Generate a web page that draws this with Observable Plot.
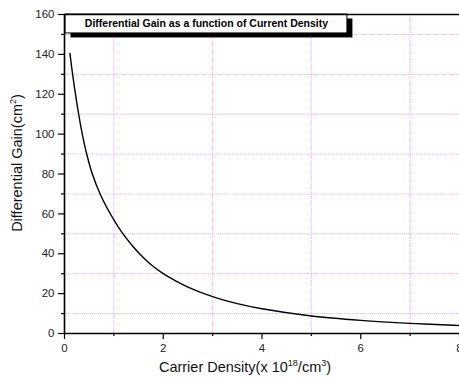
<!DOCTYPE html>
<html>
<head>
<meta charset="utf-8">
<script src="https://cdn.jsdelivr.net/npm/d3@7"></script>
<script src="https://cdn.jsdelivr.net/npm/@observablehq/plot@0.6"></script>
<style>
  html, body { margin: 0; padding: 0; background: white; }
</style>
</head>
<body>
<div id="chart"></div>
<script>
// Data
const carrierDensity = [0.11, 0.17, 0.28, 0.36, 0.44, 0.55, 0.73, 1.0, 1.17, 1.4, 1.53, 1.75, 2.0, 2.25, 2.5, 3.0, 3.5, 4.0, 5.0, 6.0, 7.0, 8.0];
const differentialGain = [140.5, 129, 111, 100, 91, 81, 69.5, 57, 50.5, 43.3, 39.8, 34.6, 30, 26.4, 23.3, 18.5, 15, 12.4, 8.8, 6.6, 5.1, 4.0];

const xMajorTicks = [0, 2, 4, 6, 8];
const xMinorTicks = [1, 3, 5, 7];
const yMajorTicks = [0, 20, 40, 60, 80, 100, 120, 140, 160];
const yMinorTicks = [10, 30, 50, 70, 90, 110, 130, 150];

const titleText = "Differential Gain as a function of Current Density";
const xLabel = ["Carrier Density(x 10", "18", "/cm", "3", ")"];
const yLabel = ["Differential Gain(cm", "2", ")"];

const data = carrierDensity.map((x, i) => ({x, y: differentialGain[i]}));

// layout of the title box (in data units)
const titleBox = {x1: 0.02, x2: 5.73, y1: 150.5, y2: 160};

const gridStyle = {stroke: "#f49cf4", strokeDasharray: "1,1", strokeWidth: 1, strokeOpacity: 0.85};

const chart = Plot.plot({
  width: 459,
  height: 377,
  marginLeft: 64,
  marginRight: 0,
  marginTop: 14,
  marginBottom: 44,
  x: {domain: [0, 8]},
  y: {domain: [0, 160]},
  style: {fontFamily: "'Liberation Sans', Arial, sans-serif", fontSize: "11.5px", color: "#222", background: "white", overflow: "visible"},
  marks: [
    Plot.ruleX(xMinorTicks, gridStyle),
    Plot.ruleY(yMinorTicks, gridStyle),
    Plot.line(data, {x: "x", y: "y", curve: "catmull-rom", stroke: "black", strokeWidth: 1.4}),
    Plot.rect([titleBox], {x1: "x1", x2: "x2", y1: "y1", y2: "y2", fill: "black", dx: 5.5, dy: 4.5}),
    Plot.rect([titleBox], {x1: "x1", x2: "x2", y1: "y1", y2: "y2", fill: "white", stroke: "black", strokeWidth: 1}),
    Plot.text([titleText], {x: (titleBox.x1 + titleBox.x2) / 2, y: (titleBox.y1 + titleBox.y2) / 2, text: d => d, fontWeight: "bold", fontSize: 10.5, fill: "black"}),
    Plot.ruleY([160], {stroke: "black", strokeWidth: 1.5}),
    Plot.axisX(xMajorTicks, {tickSize: 6, tickPadding: 4, label: null, stroke: "black", strokeWidth: 1.2}),
    Plot.axisX(xMinorTicks, {tickSize: 3, text: null, label: null, stroke: "black", strokeWidth: 1.2}),
    Plot.axisY(yMajorTicks, {tickSize: 6, tickPadding: 4, label: null, stroke: "black", strokeWidth: 1.2}),
    Plot.axisY(yMinorTicks, {tickSize: 3, text: null, label: null, stroke: "black", strokeWidth: 1.2}),
    Plot.ruleY([0], {stroke: "black", strokeWidth: 1.6}),
    Plot.ruleX([0], {stroke: "black", strokeWidth: 1.6})
  ]
});

document.getElementById("chart").appendChild(chart);

// Axis titles with superscripts
const svg = d3.select(chart);
function addLabel(parts, attrs) {
  const t = svg.append("text")
    .attr("font-family", "'Liberation Sans', Arial, sans-serif")
    .attr("font-size", 14.5)
    .attr("fill", "#111")
    .attr("text-anchor", "middle");
  for (const [k, v] of Object.entries(attrs)) t.attr(k, v);
  parts.forEach((p, i) => {
    const sup = i % 2 === 1;
    t.append("tspan")
      .attr("font-size", sup ? 9 : 14.5)
      .attr("dy", sup ? -6 : (i > 0 ? 6 : 0))
      .text(p);
  });
}
addLabel(xLabel, {x: 245, y: 372});
addLabel(yLabel, {transform: "translate(22,163) rotate(-90)"});
</script>
</body>
</html>
